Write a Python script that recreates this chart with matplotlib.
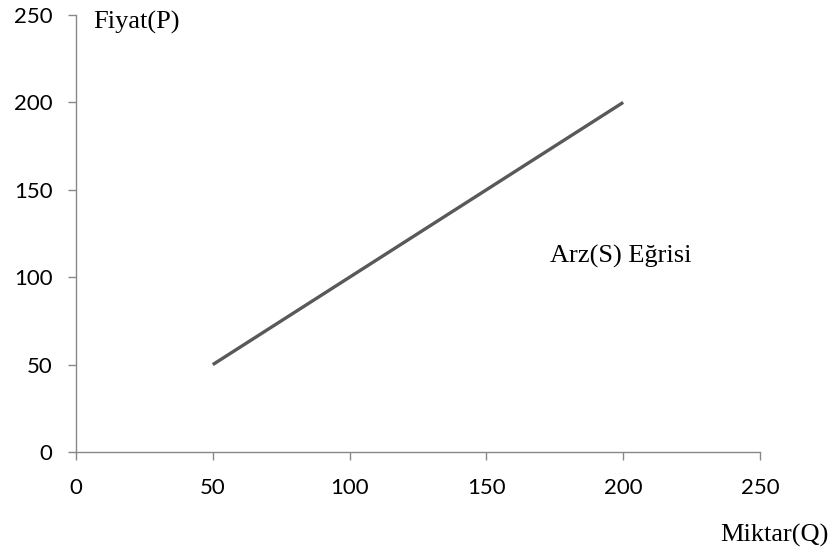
import matplotlib
matplotlib.use("Agg")
import matplotlib.pyplot as plt

quantity = [50, 200]
price = [50, 200]
xticks = [0, 50, 100, 150, 200, 250]
yticks = [0, 50, 100, 150, 200, 250]

fig = plt.figure(figsize=(8.3, 5.52), dpi=100)
ax = fig.add_axes([76/830, 1-452/552, (760-76)/830, (452-15)/552])
ax.plot(quantity, price, color="#595959", linewidth=2.4, solid_capstyle="butt")
ax.set_xlim(0, 250)
ax.set_ylim(0, 250)
ax.set_xticks(xticks)
ax.set_yticks(yticks)
for s in ["top", "right"]:
    ax.spines[s].set_visible(False)
for s in ["left", "bottom"]:
    ax.spines[s].set_color("#888888")
    ax.spines[s].set_linewidth(1.0)
ax.tick_params(axis="both", direction="out", length=6, width=1.0, color="#888888",
               labelsize=16, labelcolor="black")
ax.tick_params(axis="y", pad=11)
ax.tick_params(axis="x", pad=13)
for lab in ax.get_xticklabels() + ax.get_yticklabels():
    lab.set_fontfamily("Lato")

serif = ["Liberation Serif", "DejaVu Serif"]
fig.text(93/830, 1-22/552, "Fiyat(P)", family=serif, fontsize=19, va="center", ha="left")
fig.text(550/830, 1-256/552, "Arz(S) Eğrisi", family=serif, fontsize=19, va="center", ha="left")
fig.text(829/830, 1-535/552, "Miktar(Q)", family=serif, fontsize=19, va="center", ha="right")

fig.savefig("out.png", dpi=100)
